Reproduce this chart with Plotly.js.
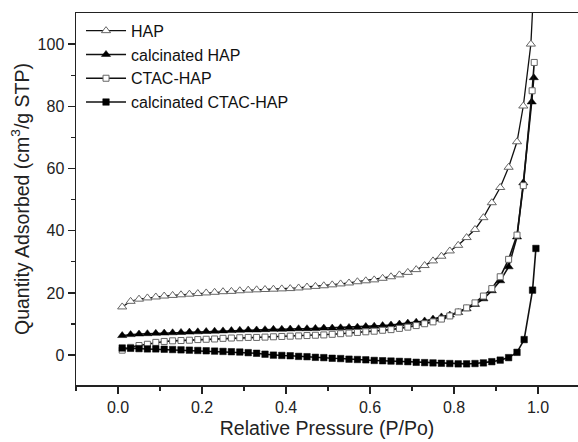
<!DOCTYPE html>
<html>
<head>
<meta charset="utf-8">
<script src="https://cdn.plot.ly/plotly-3.0.1.min.js"></script>
<style>html,body{margin:0;padding:0;background:#fff;}#chart{width:578px;height:442px;}</style>
</head>
<body>
<div id="chart"></div>
<script>
// Relative pressure grid (P/Po) common to the low/mid range
var pGrid = [0.01,0.03,0.05,0.07,0.09,0.11,0.13,0.15,0.17,0.19,0.21,0.23,0.25,0.27,0.29,0.31,0.33,0.35,
             0.37,0.39,0.41,0.43,0.45,0.47,0.49,0.51,0.53,0.55,0.57,0.59,0.61,0.63,0.65,0.67,0.69,0.71,0.73,
             0.75,0.77,0.79,0.81,0.83,0.85,0.87,0.89,0.91,0.93,0.95];

// HAP
var hapX = pGrid.concat([0.965,0.983,0.996]);
var hapY = [15.5,17.3,18.0,18.4,18.7,19.0,19.2,19.4,19.6,19.8,20.0,20.2,20.4,20.5,20.7,20.9,21.0,21.1,
            21.2,21.3,21.4,21.6,21.9,22.1,22.3,22.6,22.9,23.2,23.6,23.9,24.2,24.7,25.2,25.8,26.6,27.5,28.8,
            30.3,31.8,33.5,35.3,37.8,40.4,44.2,49.0,53.9,60.4,68.6,
            80.1,100.0,135.0];

// calcinated HAP
var cHapX = pGrid.concat([0.965,0.985,0.99]);
var cHapY = [6.3,6.6,6.8,6.9,7.0,7.1,7.2,7.3,7.4,7.5,7.6,7.7,7.8,7.9,8.0,8.1,8.1,8.2,
             8.3,8.3,8.4,8.5,8.5,8.6,8.7,8.7,8.8,8.9,9.0,9.2,9.3,9.5,9.7,10.0,10.3,10.6,11.0,
             11.6,12.3,12.9,13.7,14.9,16.3,18.1,20.7,23.9,28.4,38.0,
             55.4,81.4,89.2];

// CTAC-HAP
var ctacX = pGrid.concat([0.965,0.986,0.991]);
var ctacY = [1.6,2.5,3.1,3.5,4.1,4.4,4.6,4.7,4.8,5.0,5.1,5.2,5.4,5.5,5.6,5.7,5.7,5.8,
             5.9,6.0,6.1,6.2,6.3,6.4,6.5,6.7,6.9,7.1,7.3,7.5,7.7,8.0,8.2,8.6,9.0,9.5,10.1,
             10.7,11.6,12.6,13.9,15.2,16.8,19.0,21.4,25.2,30.8,38.6,
             54.5,85.0,94.1];

// calcinated CTAC-HAP
var cCtacX = pGrid.concat([0.967,0.987,0.995]);
var cCtacY = [2.3,2.2,2.1,2.0,2.0,1.9,1.8,1.7,1.6,1.5,1.4,1.3,1.2,1.1,1.0,0.8,0.6,0.3,
              0.0,-0.1,-0.2,-0.4,-0.5,-0.7,-0.8,-1.0,-1.1,-1.3,-1.4,-1.5,-1.7,-1.8,-1.9,-2.0,-2.1,-2.3,-2.4,
              -2.5,-2.6,-2.7,-2.8,-2.8,-2.7,-2.5,-2.1,-1.6,-0.8,0.9,
              5.0,20.9,34.3];

var seriesNames = ['HAP','calcinated HAP','CTAC-HAP','calcinated CTAC-HAP'];

var FONT = 'Liberation Sans, Arial, sans-serif';

var traces = [
  {x: hapX, y: hapY, name: seriesNames[0], legendgroup: 'a', type: 'scatter', mode: 'lines+markers',
   line: {color: '#111', width: 1.3},
   marker: {symbol: 'triangle-up', size: 8, color: '#fff', line: {color: '#666', width: 1}}},
  {x: cHapX, y: cHapY, name: seriesNames[1], legendgroup: 'b', type: 'scatter', mode: 'lines+markers',
   line: {color: '#111', width: 1.6},
   marker: {symbol: 'triangle-up', size: 8, color: '#000', line: {color: '#000', width: 0.5}}},
  {x: ctacX, y: ctacY, name: seriesNames[2], legendgroup: 'c', type: 'scatter', mode: 'lines+markers',
   line: {color: '#111', width: 1.6},
   marker: {symbol: 'square', size: 6, color: '#fff', line: {color: '#666', width: 1}}},
  {x: cCtacX, y: cCtacY, name: seriesNames[3], legendgroup: 'd', type: 'scatter', mode: 'lines+markers',
   line: {color: '#111', width: 1.6},
   marker: {symbol: 'square', size: 6.5, color: '#000', line: {color: '#000', width: 0.5}}}
];

var layout = {
  width: 578, height: 442,
  margin: {l: 76, r: 0, t: 13, b: 57},
  paper_bgcolor: '#fff', plot_bgcolor: '#fff',
  font: {family: FONT, size: 16, color: '#222'},
  showlegend: true,
  legend: {x: 0.01, y: 0.998, xanchor: 'left', yanchor: 'top', bgcolor: 'rgba(0,0,0,0)',
           font: {family: FONT, size: 16, color: '#111'}, itemwidth: 40,
           traceorder: 'grouped', tracegroupgap: 0},
  xaxis: {
    range: [-0.1, 1.0952], showgrid: false, zeroline: false,
    showline: true, linecolor: '#222', linewidth: 1.5, mirror: true,
    ticks: 'outside', ticklen: 7, tickwidth: 1.3, tickcolor: '#222',
    tickmode: 'array', tickvals: [0, 0.2, 0.4, 0.6, 0.8, 1.0], ticktext: ['0.0','0.2','0.4','0.6','0.8','1.0'],
    minor: {tickmode: 'array', tickvals: [-0.1, 0.1, 0.3, 0.5, 0.7, 0.9], ticks: 'outside', ticklen: 4, tickwidth: 1.2, tickcolor: '#222', showgrid: false},
    tickfont: {family: FONT, size: 16, color: '#222'},
    title: {text: 'Relative Pressure (P/Po)', font: {family: FONT, size: 19.5, color: '#222'}, standoff: 6}
  },
  yaxis: {
    range: [-9.6, 110], showgrid: false, zeroline: false,
    showline: true, linecolor: '#222', linewidth: 1.5, mirror: false,
    ticks: 'outside', ticklen: 7, tickwidth: 1.3, tickcolor: '#222',
    tickmode: 'array', tickvals: [0, 20, 40, 60, 80, 100],
    minor: {tickmode: 'array', tickvals: [-10, 10, 30, 50, 70, 90], ticks: 'outside', ticklen: 4, tickwidth: 1.2, tickcolor: '#222', showgrid: false},
    tickfont: {family: FONT, size: 16, color: '#222'},
    title: {text: 'Quantity Adsorbed (cm<sup>3</sup>/g STP)', font: {family: FONT, size: 19.5, color: '#222'}, standoff: 3}
  }
};

Plotly.newPlot('chart', traces, layout, {displayModeBar: false, staticPlot: true});
</script>
</body>
</html>
